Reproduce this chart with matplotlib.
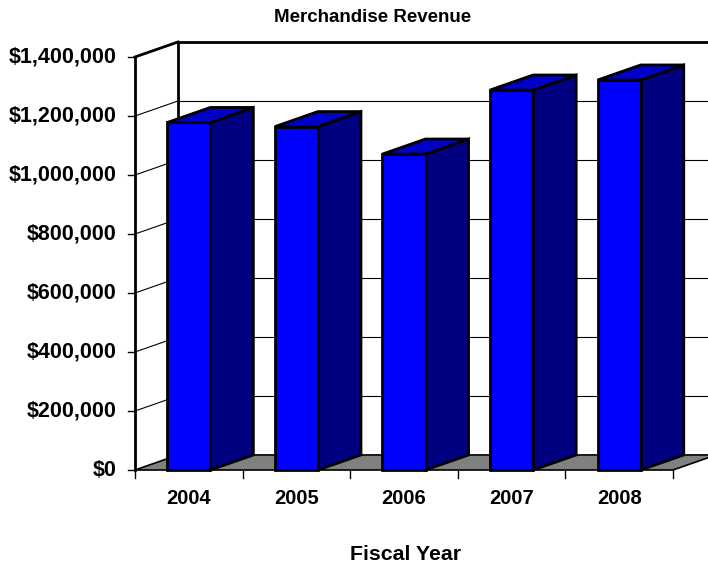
import matplotlib.pyplot as plt
from matplotlib.patches import Polygon

plt.rcParams['font.family'] = ['Liberation Sans', 'DejaVu Sans']

years = ["2004", "2005", "2006", "2007", "2008"]
revenue = [1178000, 1164000, 1071000, 1288000, 1322000]
y_ticks = [0, 200000, 400000, 600000, 800000, 1000000, 1200000, 1400000]
y_labels = ["$0", "$200,000", "$400,000", "$600,000", "$800,000",
            "$1,000,000", "$1,200,000", "$1,400,000"]

# fake 3d depth offset (category units, value units)
dx = 0.4
dy = 51000

fig = plt.figure(figsize=(7.08, 5.67), dpi=100)
ax = fig.add_axes([135 / 708, 97 / 567, 538 / 708, 413 / 567])
ax.set_xlim(0, 5)
ax.set_ylim(0, 1400000)
ax.axis("off")

n = len(years)
top = y_ticks[-1]

# back wall + side wall gridlines
for v in y_ticks[1:]:
    lw = 2 if v == top else 0.8
    ax.plot([0, dx], [v, v + dy], color="black", lw=lw, clip_on=False, zorder=1)
    ax.plot([dx, n + 1.0], [v + dy, v + dy], color="black", lw=lw,
            clip_on=False, zorder=1)
ax.plot([dx, dx], [dy, top + dy], color="black", lw=2, clip_on=False, zorder=1)
ax.plot([0, 0], [0, top], color="black", lw=2, clip_on=False, zorder=1)

# floor
floor = Polygon([(0, 0), (n, 0), (n + dx, dy), (dx, dy)], closed=True,
                facecolor="#808080", edgecolor="black", lw=1.2,
                clip_on=False, zorder=2)
ax.add_patch(floor)

# bars
w = 0.4
for i, v in enumerate(revenue):
    x0 = i + 0.3
    x1 = x0 + w
    front = Polygon([(x0, 0), (x1, 0), (x1, v), (x0, v)], closed=True,
                    facecolor="#0000FF", edgecolor="black", lw=2,
                    joinstyle="miter", clip_on=False, zorder=3)
    side = Polygon([(x1, 0), (x1 + dx, dy), (x1 + dx, v + dy), (x1, v)],
                   closed=True, facecolor="#000080", edgecolor="black",
                   lw=2, joinstyle="miter", clip_on=False, zorder=3)
    lid = Polygon([(x0, v), (x1, v), (x1 + dx, v + dy), (x0 + dx, v + dy)],
                  closed=True, facecolor="#0000C8", edgecolor="black",
                  lw=2, joinstyle="miter", clip_on=False, zorder=3)
    ax.add_patch(side)
    ax.add_patch(lid)
    ax.add_patch(front)

# y ticks and labels
for v, lab in zip(y_ticks, y_labels):
    ax.plot([-0.065, 0], [v, v], color="black", lw=1, clip_on=False, zorder=1)
    ax.text(-0.17, v, lab, ha="right", va="center", fontsize=15.5,
            fontweight="bold")

# x ticks and labels
for i in range(n + 1):
    ax.plot([i, i], [0, -27000], color="black", lw=1, clip_on=False, zorder=1)
for i, lab in enumerate(years):
    ax.text(i + 0.5, -95000, lab, ha="center", va="center", fontsize=14.5,
            fontweight="bold")

fig.text(373 / 708, 1 - 18 / 567, "Merchandise Revenue", ha="center",
         va="center", fontsize=13.5, fontweight="bold")
fig.text(406 / 708, 1 - 555 / 567, "Fiscal Year", ha="center", va="center",
         fontsize=15.3, fontweight="bold")

fig.savefig("out.png", dpi=100)
